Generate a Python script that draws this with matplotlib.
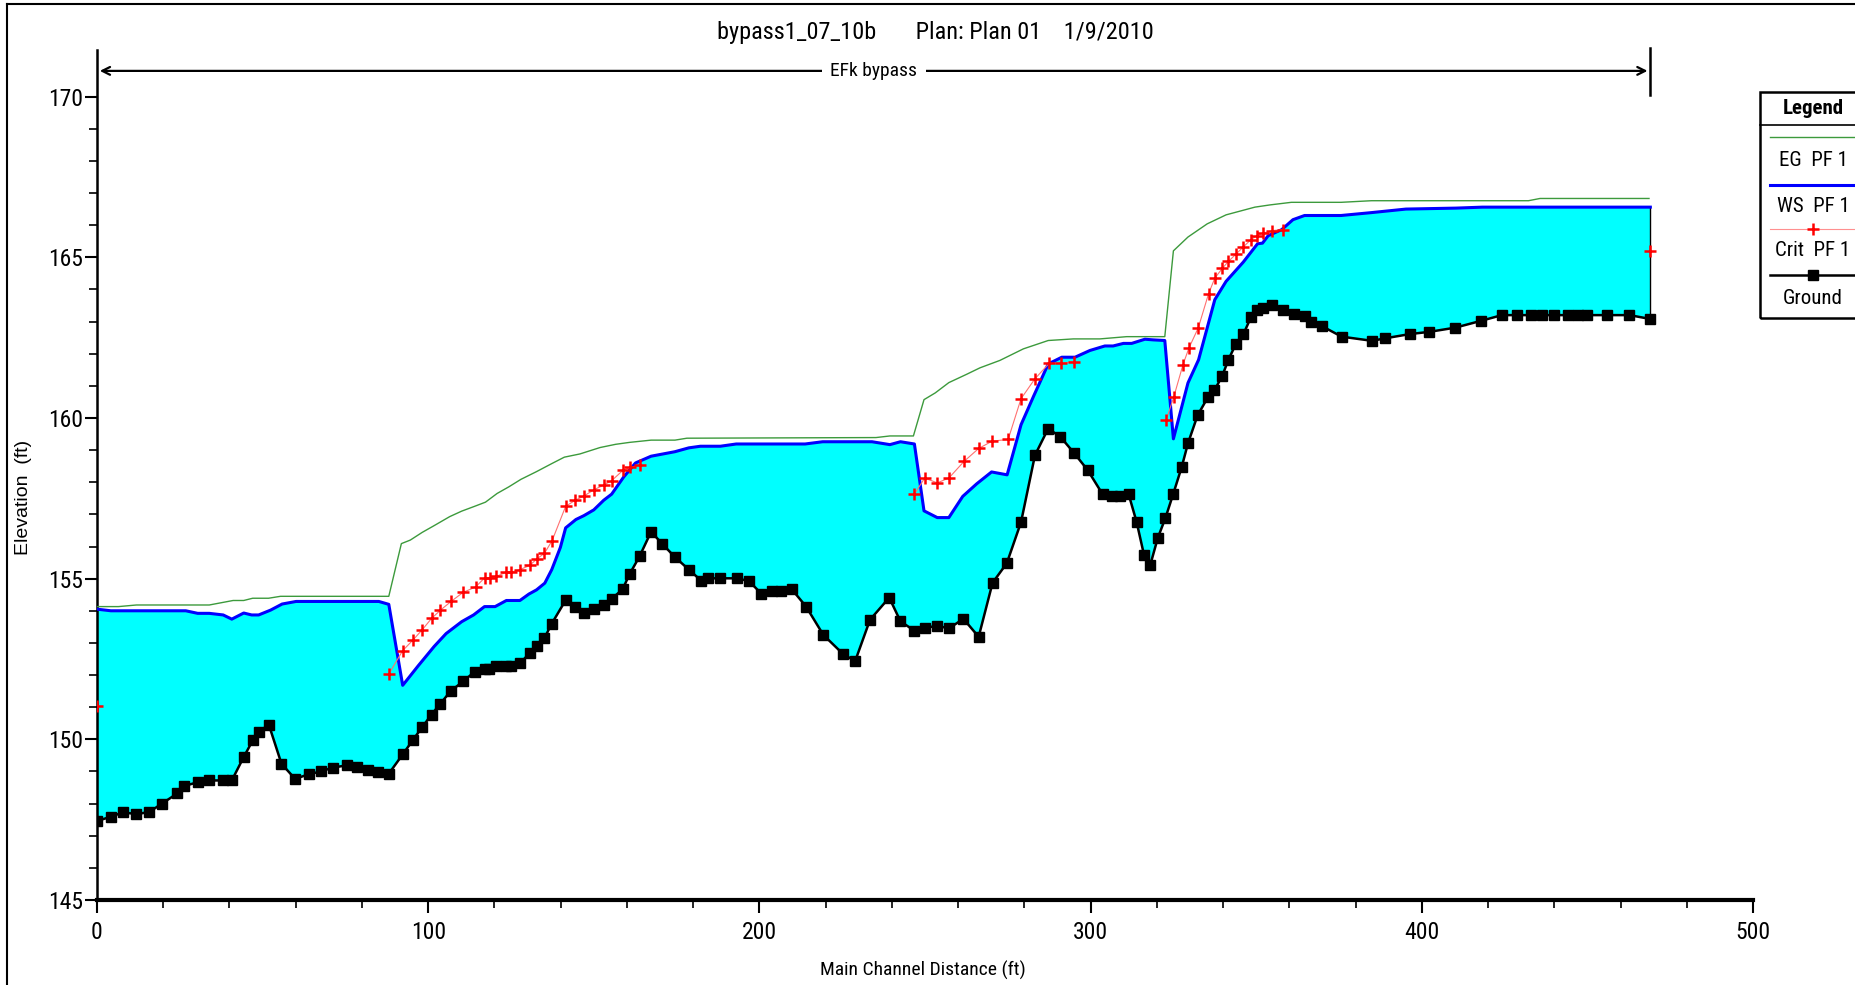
import numpy as np
import matplotlib
matplotlib.use("Agg")
import matplotlib.pyplot as plt
from matplotlib import font_manager
from matplotlib.lines import Line2D
from matplotlib.patches import Rectangle

# HEC-RAS style water surface profile

ground_x = [0, 4.2, 7.9, 11.9, 15.8, 19.6, 24.3, 26.4, 30.6, 33.9, 37.9, 40.7, 44.3, 47.1, 48.9,
            51.9, 55.7, 59.8, 63.9, 67.6, 71.2, 75.4, 78.6, 81.7, 84.9, 88.1, 92.3, 95.4, 98.2,
            101.0, 103.6, 106.8, 110.5, 114.0, 117.0, 118.5, 120.6, 123.6, 125.0, 127.7, 130.6,
            132.9, 135.1, 137.3, 141.5, 144.3, 147.0, 150.1, 153.0, 155.4, 158.7, 160.8, 163.8,
            167.3, 170.6, 174.5, 178.8, 182.5, 184.6, 188.2, 193.3, 196.9, 200.6, 203.7, 206.5,
            209.7, 214.1, 219.3, 225.2, 228.9, 233.4, 239.2, 242.6, 246.8, 249.9, 253.5, 257.2,
            261.6, 266.2, 270.4, 274.7, 279.0, 283.2, 287.2, 290.9, 295.0, 299.1, 303.6, 306.6,
            309.0, 311.5, 313.9, 316.1, 318.0, 320.3, 322.6, 324.9, 327.5, 329.4, 332.3, 335.5,
            337.4, 339.8, 341.6, 343.9, 346.1, 348.4, 350.2, 352.1, 354.8, 358.0, 361.3, 364.6,
            366.6, 369.8, 375.8, 385.0, 389.0, 396.4, 402.3, 410.1, 417.8, 424.2, 428.7, 433.0,
            436.3, 439.8, 444.0, 447.1, 449.8, 455.9, 462.7, 469.0]
ground_y = [147.46, 147.59, 147.73, 147.67, 147.74, 148.0, 148.32, 148.55, 148.67, 148.72, 148.72,
            148.72, 149.45, 149.98, 150.24, 150.45, 149.24, 148.77, 148.91, 149.0, 149.12, 149.19,
            149.14, 149.05, 148.98, 148.93, 149.53, 149.98, 150.38, 150.77, 151.1, 151.5, 151.8,
            152.1, 152.2, 152.2, 152.29, 152.29, 152.29, 152.36, 152.68, 152.9, 153.15, 153.6,
            154.33, 154.13, 153.93, 154.05, 154.19, 154.37, 154.67, 155.14, 155.69, 156.46, 156.09,
            155.67, 155.27, 154.93, 155.01, 155.01, 155.01, 154.92, 154.53, 154.61, 154.61, 154.68,
            154.13, 153.25, 152.66, 152.43, 153.72, 154.41, 153.67, 153.38, 153.45, 153.54, 153.45,
            153.75, 153.19, 154.87, 155.48, 156.76, 158.84, 159.67, 159.41, 158.91, 158.38, 157.63,
            157.56, 157.56, 157.62, 156.76, 155.75, 155.42, 156.27, 156.89, 157.62, 158.47, 159.21,
            160.08, 160.66, 160.86, 161.32, 161.81, 162.31, 162.6, 163.13, 163.35, 163.42, 163.5,
            163.35, 163.23, 163.17, 163.0, 162.86, 162.53, 162.4, 162.48, 162.61, 162.68, 162.81,
            163.02, 163.2, 163.2, 163.2, 163.2, 163.2, 163.2, 163.2, 163.2, 163.2, 163.2, 163.08]

ws_x = [0, 4.2, 26.8, 30.4, 33.9, 38.1, 40.7, 44.3, 46.7, 48.8, 52.4, 55.9, 60.1, 85.1, 88.1,
        92.3, 97.0, 101.8, 105.4, 110.1, 113.7, 117.0, 120.2, 123.6, 127.7, 130.4, 132.7, 135.2,
        137.3, 139.9, 141.5, 144.6, 147.0, 150.0, 153.0, 155.4, 159.0, 162.6, 167.3, 174.5, 178.7,
        182.2, 188.2, 193.0, 213.8, 219.1, 234.0, 239.4, 242.6, 246.8, 249.7, 253.7, 257.2, 261.4,
        265.6, 270.1, 274.8, 279.0, 282.8, 287.2, 291.3, 295.3, 299.8, 304.3, 306.8, 309.9, 312.4,
        316.4, 318.9, 322.4, 325.0, 329.4, 332.6, 337.5, 340.9, 346.1, 350.4, 351.9, 353.6, 357.7,
        361.1, 364.6, 375.6, 384.8, 395.2, 410.3, 418.3, 469.0]
ws_y = [154.05, 154.0, 154.0, 153.92, 153.92, 153.87, 153.74, 153.93, 153.87, 153.87, 154.02,
        154.21, 154.29, 154.29, 154.2, 151.68, 152.29, 152.89, 153.29, 153.66, 153.87, 154.13,
        154.13, 154.32, 154.32, 154.52, 154.65, 154.86, 155.28, 155.97, 156.58, 156.84, 156.96,
        157.14, 157.44, 157.63, 158.16, 158.6, 158.81, 158.95, 159.07, 159.12, 159.12, 159.19,
        159.19, 159.26, 159.26, 159.17, 159.26, 159.19, 157.11, 156.9, 156.9, 157.56, 157.95,
        158.32, 158.23, 159.79, 160.68, 161.68, 161.89, 161.89, 162.1, 162.24, 162.24, 162.32,
        162.32, 162.45, 162.43, 162.41, 159.35, 161.09, 161.81, 163.68, 164.25, 164.85, 165.42,
        165.44, 165.67, 165.86, 166.17, 166.3, 166.3, 166.39, 166.5, 166.53, 166.56, 166.56]

eg_x = [0, 6.5, 11.9, 33.9, 41.1, 44.3, 47.0, 51.8, 55.4, 88.1, 91.9, 94.6, 98.2, 101.8, 106.5,
        110.1, 114.0, 117.3, 120.8, 124.4, 128.0, 132.7, 137.5, 141.1, 145.8, 151.9, 156.6, 160.8,
        167.3, 174.5, 178.1, 235.2, 239.4, 246.5, 249.7, 253.1, 257.2, 262.6, 266.6, 272.6, 279.7,
        287.2, 294.8, 302.8, 310.9, 322.4, 325.0, 329.4, 335.2, 340.9, 349.6, 354.2, 360.6, 375.6,
        384.8, 432.2, 435.7, 468.6]
eg_y = [154.13, 154.13, 154.18, 154.18, 154.32, 154.32, 154.39, 154.39, 154.45, 154.45, 156.09,
        156.2, 156.44, 156.65, 156.93, 157.1, 157.25, 157.38, 157.65, 157.86, 158.09, 158.33,
        158.59, 158.78, 158.88, 159.08, 159.18, 159.24, 159.31, 159.31, 159.37, 159.39, 159.44,
        159.44, 160.57, 160.78, 161.1, 161.36, 161.56, 161.79, 162.15, 162.41, 162.46, 162.46,
        162.53, 162.53, 165.2, 165.63, 166.04, 166.32, 166.56, 166.63, 166.71, 166.71, 166.76,
        166.76, 166.83, 166.83]

# nan = no critical depth computed at that section
crit_x = [0, np.nan, 88.1, 92.3, 95.5, 98.2, 101.0, 103.7, 106.9, 110.5, 114.3, 117.0, 118.7,
          120.6, 123.6, 125.0, 127.7, 130.6, 132.9, 135.1, 137.4, 141.5, 144.4, 147.0, 150.1,
          153.0, 155.4, 158.8, 161.0, 163.8, np.nan, 246.8, 249.9, 253.7, 257.2, 261.8, 266.2,
          270.3, 275.1, 279.0, 283.2, 287.5, 291.0, 295.0, np.nan, 322.8, 325.1, 327.9, 329.7,
          332.5, 335.6, 337.5, 339.8, 341.6, 343.9, 346.1, 348.4, 350.2, 352.1, 354.8, 358.0,
          np.nan, 469.0]
crit_y = [151.05, np.nan, 152.03, 152.76, 153.1, 153.41, 153.76, 154.02, 154.29, 154.57, 154.74,
          155.02, 155.02, 155.07, 155.2, 155.2, 155.28, 155.41, 155.62, 155.79, 156.18, 157.25,
          157.44, 157.57, 157.77, 157.91, 158.05, 158.37, 158.46, 158.53, np.nan, 157.63, 158.13,
          157.98, 158.13, 158.65, 159.05, 159.28, 159.33, 160.6, 161.22, 161.7, 161.7, 161.75,
          np.nan, 159.93, 160.65, 161.66, 162.18, 162.8, 163.86, 164.35, 164.66, 164.87, 165.1,
          165.32, 165.55, 165.67, 165.75, 165.83, 165.86, np.nan, 165.2]

title_text = "bypass1_07_10b       Plan: Plan 01    1/9/2010"
reach_name = "EFk bypass"
legend_names = ["EG  PF 1", "WS  PF 1", "Crit  PF 1", "Ground"]

# look for a narrow face, the original uses Arial Narrow
narrow, stretch = "Liberation Sans", "normal"
fonts = font_manager.fontManager.ttflist
names = {f.name for f in fonts}
for cand in ["Liberation Sans Narrow", "Arial Narrow", "Roboto Condensed",
             "Noto Sans Condensed", "Open Sans Condensed", "DejaVu Sans Condensed"]:
    if cand in names:
        narrow = cand
        break
else:
    cond = [f for f in fonts if f.stretch in ("condensed", "semi-condensed", 75, 87)
            and f.style == "normal"]
    if cond:
        narrow, stretch = cond[0].name, cond[0].stretch

plt.rcParams['font.family'] = [narrow, 'DejaVu Sans']
plt.rcParams['font.stretch'] = stretch

W, H = 1856, 985
fig = plt.figure(figsize=(W / 100, H / 100), dpi=100)


def fx(px):
    return px / W


def fy(py):
    return 1 - py / H


ax = fig.add_axes([fx(97), fy(900), fx(1753) - fx(97), fy(50) - fy(900)])

# water between ground and water surface
poly_x = np.concatenate([ws_x, ground_x[::-1]])
poly_y = np.concatenate([ws_y, ground_y[::-1]])
ax.fill(poly_x, poly_y, color='#00ffff', lw=0, zorder=1)
ax.plot([ground_x[-1], ws_x[-1]], [ground_y[-1], ws_y[-1]], color='black', lw=1, zorder=2)

ax.plot(eg_x, eg_y, color='#3c9a3c', lw=1.0, zorder=3)
ax.plot(ws_x, ws_y, color='#0000ff', lw=2.2, zorder=4)
ax.plot(crit_x, crit_y, color='#ff7070', lw=0.8, zorder=5)
ax.plot(crit_x, crit_y, ls='none', marker='+', ms=9, mew=1.8, color='red', zorder=6)
ax.plot(ground_x, ground_y, color='black', lw=1.8, marker='s', ms=6.5, zorder=7)

ax.set_xlim(0, 500)
ax.set_ylim(145, 171.45)
ax.set_xticks(range(0, 501, 100))
ax.set_xticks(range(0, 501, 20), minor=True)
ax.set_yticks(range(145, 171, 5))
ax.set_yticks(range(145, 171, 1), minor=True)
ax.tick_params(axis='both', which='major', labelsize=17, width=1.5, length=9)
ax.tick_params(axis='both', which='minor', width=1.2, length=6)
ax.tick_params(axis='x', pad=6)
ax.tick_params(axis='y', pad=1)
for side in ('top', 'right'):
    ax.spines[side].set_visible(False)
ax.spines['bottom'].set_linewidth(3)
ax.spines['left'].set_linewidth(1.8)

# reach arrow with river/reach name
ax.annotate('', xy=(0, 170.8), xytext=(ground_x[-1], 170.8),
            arrowprops=dict(arrowstyle='<->', color='black', lw=1.6, mutation_scale=14))
ax.plot([ground_x[-1], ground_x[-1]], [170.05, 171.5], color='black', lw=1.8, clip_on=False)
ax.text(ground_x[-1] / 2, 170.8, reach_name, ha='center', va='center', fontsize=14,
        bbox=dict(facecolor='white', edgecolor='none', pad=6))

fig.text(fx(935), fy(33), title_text, ha='center', va='center', fontsize=17.5)
fig.text(fx(923), fy(970), "Main Channel Distance (ft)", ha='center', va='center', fontsize=14)
fig.text(fx(24), fy(497), "Elevation  (ft)", ha='center', va='center', rotation=90,
         fontsize=14, family=['Liberation Sans', 'DejaVu Sans'], stretch='normal')

# outer frame
fig.add_artist(Line2D([fx(7), fx(7)], [fy(4), 0], color='black', lw=1.5, transform=fig.transFigure))
fig.add_artist(Line2D([fx(7), 1], [fy(4), fy(4)], color='black', lw=1.5, transform=fig.transFigure))

# legend box (HEC-RAS style, cut at right edge)
fig.add_artist(Rectangle((fx(1760), fy(318)), fx(1900) - fx(1760), fy(92) - fy(318),
                         transform=fig.transFigure, fill=False, edgecolor='black', lw=1.8))
fig.add_artist(Line2D([fx(1760), 1], [fy(125), fy(125)], color='black', lw=1.2,
                      transform=fig.transFigure))
fig.text(fx(1813), fy(108), "Legend", ha='center', va='center', fontsize=15, weight='bold')

styles = [dict(color='#3c9a3c', lw=1.0),
          dict(color='#0000ff', lw=2.2),
          dict(color='#ff9090', lw=0.8),
          dict(color='black', lw=1.8)]
line_rows = [137, 185, 229, 275]
text_rows = [161, 206, 251, 298]
for name, st, ly, ty in zip(legend_names, styles, line_rows, text_rows):
    fig.add_artist(Line2D([fx(1770), 1], [fy(ly), fy(ly)], transform=fig.transFigure, **st))
    fig.text(fx(1813), fy(ty), name, ha='center', va='center', fontsize=15)
fig.add_artist(Line2D([fx(1813)], [fy(229)], marker='+', ms=9, mew=1.8, color='red',
                      transform=fig.transFigure))
fig.add_artist(Line2D([fx(1813)], [fy(275)], marker='s', ms=6.5, color='black',
                      transform=fig.transFigure))

fig.savefig("out.png", dpi=100)
